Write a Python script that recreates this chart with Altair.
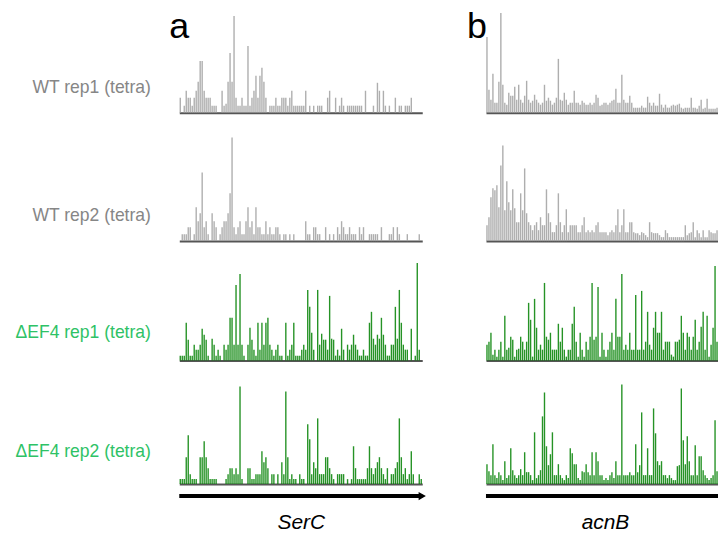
import altair as alt
import pandas as pd
import numpy as np

FONT = "Liberation Sans"
GENES = ["SerC", "acnB"]
ROW_LABELS = ["WT rep1 (tetra)", "WT rep2 (tetra)", "\u0394EF4 rep1 (tetra)", "\u0394EF4 rep2 (tetra)"]
LETTERS = ["a", "b"]
SERC_BINS = 122
ACNB_BINS = 120

# footprint reads per bin
serc_wt_rep1 = [
    15, 0, 7, 22, 15, 15, 7, 15, 22, 31,
    52, 52, 22, 15, 15, 15, 7, 7, 7, 0,
    0, 22, 7, 9, 31, 60, 31, 97, 15, 7,
    7, 15, 7, 7, 67, 7, 15, 22, 37, 15,
    37, 45, 31, 15, 0, 7, 7, 7, 15, 7,
    7, 15, 15, 15, 7, 15, 22, 7, 7, 7,
    7, 7, 7, 22, 0, 7, 0, 7, 0, 7,
    7, 7, 0, 0, 15, 22, 0, 0, 15, 0,
    7, 15, 7, 0, 7, 7, 7, 7, 7, 7,
    7, 7, 0, 22, 0, 0, 0, 7, 0, 30,
    22, 0, 22, 7, 0, 7, 0, 0, 15, 0,
    7, 7, 0, 7, 7, 7, 15, 0, 0, 0,
    0, 0]
serc_wt_rep2 = [
    0, 7, 7, 7, 14, 14, 0, 7, 34, 20,
    28, 69, 14, 20, 7, 0, 28, 20, 14, 0,
    7, 14, 20, 20, 28, 48, 104, 14, 7, 14,
    20, 7, 7, 20, 34, 14, 20, 7, 34, 14,
    14, 7, 7, 20, 7, 14, 7, 7, 14, 14,
    7, 0, 7, 7, 0, 7, 0, 7, 0, 0,
    0, 0, 0, 20, 7, 7, 0, 14, 14, 7,
    7, 0, 0, 14, 0, 7, 0, 7, 0, 14,
    7, 20, 14, 7, 7, 14, 7, 7, 7, 0,
    14, 7, 14, 0, 0, 7, 7, 7, 7, 7,
    0, 14, 0, 0, 0, 7, 7, 14, 0, 14,
    7, 0, 0, 0, 7, 0, 0, 0, 0, 0,
    7, 0]
serc_ef4_rep1 = [
    5, 5, 5, 38, 21, 5, 5, 16, 11, 11,
    16, 32, 26, 21, 5, 0, 22, 16, 5, 11,
    5, 0, 16, 11, 16, 43, 43, 16, 76, 16,
    87, 16, 5, 0, 16, 33, 21, 11, 5, 38,
    11, 38, 16, 38, 43, 16, 11, 5, 11, 16,
    5, 5, 0, 38, 5, 11, 16, 38, 5, 5,
    5, 11, 16, 11, 71, 54, 28, 11, 0, 71,
    16, 27, 21, 21, 11, 65, 22, 21, 5, 11,
    5, 32, 11, 0, 16, 11, 16, 26, 16, 11,
    5, 5, 11, 5, 5, 38, 49, 22, 16, 26,
    22, 43, 26, 16, 5, 5, 16, 16, 54, 22,
    71, 38, 16, 11, 11, 0, 32, 0, 5, 98,
    11, 0]
serc_ef4_rep2 = [
    5, 5, 5, 27, 49, 10, 5, 5, 5, 0,
    27, 27, 43, 27, 16, 5, 5, 5, 5, 0,
    0, 0, 0, 5, 10, 16, 16, 10, 16, 10,
    98, 5, 0, 0, 16, 16, 5, 5, 10, 10,
    10, 33, 22, 27, 16, 0, 10, 10, 0, 10,
    0, 22, 10, 93, 27, 5, 10, 5, 5, 0,
    10, 5, 5, 0, 60, 45, 10, 22, 16, 66,
    10, 10, 10, 27, 27, 16, 10, 5, 0, 10,
    10, 10, 10, 0, 5, 0, 5, 38, 16, 5,
    5, 5, 5, 5, 16, 38, 16, 10, 16, 22,
    27, 16, 10, 5, 16, 0, 10, 10, 16, 22,
    66, 27, 10, 16, 5, 10, 33, 10, 0, 0,
    10, 5]
acnb_wt_rep1 = [
    76, 23, 13, 39, 10, 10, 31, 100, 28, 10,
    8, 20, 17, 17, 26, 13, 28, 13, 10, 17,
    32, 13, 10, 12, 18, 13, 10, 8, 10, 28,
    12, 15, 12, 8, 10, 15, 54, 13, 12, 20,
    13, 8, 10, 10, 22, 10, 10, 8, 12, 10,
    8, 8, 10, 8, 10, 18, 15, 7, 8, 10,
    10, 8, 10, 12, 13, 24, 10, 10, 38, 13,
    10, 10, 17, 10, 5, 5, 5, 5, 7, 5,
    5, 16, 10, 7, 10, 7, 7, 19, 8, 5,
    8, 5, 5, 7, 8, 7, 8, 9, 5, 4,
    5, 5, 5, 15, 5, 5, 4, 7, 13, 4,
    5, 14, 4, 4, 4, 4, 5, 4, 4, 7]
acnb_wt_rep2 = [
    16, 24, 44, 53, 51, 56, 34, 76, 96, 31,
    60, 39, 31, 52, 33, 19, 19, 48, 31, 73,
    28, 19, 16, 11, 16, 19, 11, 24, 16, 16,
    52, 28, 19, 9, 9, 16, 48, 19, 9, 16,
    32, 9, 16, 16, 16, 16, 9, 9, 16, 24,
    9, 11, 9, 11, 9, 16, 19, 9, 9, 9,
    9, 6, 9, 11, 9, 16, 32, 9, 16, 32,
    9, 9, 19, 19, 9, 8, 8, 6, 9, 8,
    6, 4, 19, 9, 8, 8, 8, 6, 4, 4,
    11, 8, 4, 4, 4, 4, 4, 4, 4, 4,
    16, 6, 8, 9, 19, 4, 11, 8, 4, 11,
    4, 4, 11, 9, 8, 8, 11, 4, 11, 4]
acnb_ef4_rep1 = [
    16, 19, 28, 6, 11, 4, 11, 19, 4, 45,
    11, 13, 24, 21, 4, 11, 12, 24, 19, 11,
    19, 58, 41, 4, 62, 33, 11, 16, 11, 78,
    24, 21, 28, 11, 11, 11, 37, 19, 33, 11,
    4, 11, 11, 37, 54, 19, 4, 28, 11, 4,
    19, 11, 24, 78, 21, 24, 74, 4, 28, 11,
    4, 11, 19, 28, 11, 62, 24, 24, 87, 11,
    16, 11, 28, 11, 11, 66, 11, 11, 70, 11,
    19, 49, 16, 11, 33, 49, 28, 28, 49, 11,
    19, 19, 19, 6, 4, 19, 19, 21, 45, 28,
    11, 28, 24, 11, 24, 41, 11, 19, 34, 49,
    11, 45, 4, 16, 33, 95, 19, 11, 28, 21]
acnb_ef4_rep2 = [
    20, 13, 9, 40, 9, 6, 12, 9, 4, 23,
    6, 9, 36, 14, 9, 6, 9, 15, 9, 32,
    12, 12, 9, 4, 52, 6, 9, 14, 68, 92,
    38, 19, 30, 52, 9, 9, 20, 9, 6, 4,
    9, 6, 36, 31, 20, 20, 6, 4, 13, 12,
    20, 12, 9, 32, 9, 32, 23, 9, 9, 4,
    6, 4, 9, 12, 6, 23, 9, 9, 100, 9,
    9, 9, 12, 9, 9, 40, 12, 19, 72, 9,
    9, 36, 9, 9, 76, 51, 23, 19, 23, 9,
    9, 6, 9, 6, 4, 4, 18, 19, 96, 44,
    20, 48, 23, 9, 9, 39, 9, 28, 28, 14,
    9, 6, 4, 6, 9, 64, 13, 9, 6, 9]

SERC_TRACKS = [serc_wt_rep1, serc_wt_rep2, serc_ef4_rep1, serc_ef4_rep2]
ACNB_TRACKS = [acnb_wt_rep1, acnb_wt_rep2, acnb_ef4_rep1, acnb_ef4_rep2]

ROW_H = [100, 107, 98, 102]
LABEL_Y = [75, 81, 70, 69]
BAR_COLORS = ["#a0a0a0", "#a0a0a0", "#008000", "#008000"]
LABEL_COLORS = ["#868686", "#868686", "#2ec266", "#2ec266"]
WIDTHS = [244, 239]
LETTER_DX = [-10, -19]


def panel(key, vals, nbins, h, color, width, label=None, label_color=None, label_y=0,
          gene=None, arrow_head=False, letter=None, letter_dx=0):
    pos_f = "pos_" + key
    val_f = "reads_" + key
    df = pd.DataFrame({pos_f: np.arange(len(vals)) + 0.5, val_f: vals})
    df = df[df[val_f] > 0]
    xscale = alt.Scale(domain=[0, nbins], nice=False, zero=False)
    ax_kw = dict(domain=True, domainColor="#555555", domainWidth=2, ticks=False,
                 labels=False, grid=False)
    if gene:
        ax_kw.update(title=gene, titleFont=FONT, titleFontSize=21, titleFontStyle="italic",
                     titleFontWeight="normal", titleColor="black", titlePadding=45,
                     titleBaseline="alphabetic")
    else:
        ax_kw.update(title="")
    xax = alt.Axis(**ax_kw)
    if label:
        yax = alt.Axis(title=label, titleAngle=0, titleAlign="right", titleBaseline="middle",
                       titleX=-29, titleY=label_y, titleFont=FONT, titleFontSize=17.6,
                       titleFontWeight="normal", titleColor=label_color,
                       domain=False, ticks=False, labels=False, grid=False)
    else:
        yax = None
    bars = alt.Chart(df).mark_rule(strokeWidth=1.4, color=color, opacity=0.85, strokeCap="butt").encode(
        x=alt.X(pos_f + ":Q", scale=xscale, axis=xax),
        y=alt.Y(val_f + ":Q", scale=alt.Scale(domain=[0, h], nice=False), axis=yax),
        y2=alt.datum(0),
    )
    layers = [bars]
    if gene:
        gdf = pd.DataFrame({"start": [0], "end": [nbins]})
        shaft = alt.Chart(gdf).mark_rule(strokeWidth=4, color="black", strokeCap="butt").encode(
            x=alt.X("start:Q", scale=xscale, axis=xax),
            x2="end:Q",
            y=alt.value(h + 12),
        )
        layers.append(shaft)
        if arrow_head:
            head = alt.Chart(gdf).mark_point(shape="triangle-right", filled=True, size=70,
                                             color="black", opacity=1).encode(
                x=alt.X("end:Q", scale=xscale, axis=xax),
                y=alt.value(h + 12),
            )
            layers.append(head)
    if letter:
        ldf = pd.DataFrame({"letter": [letter]})
        txt = alt.Chart(ldf).mark_text(font=FONT, fontSize=36, color="black", align="left",
                                       baseline="alphabetic").encode(
            text="letter:N", x=alt.value(letter_dx), y=alt.value(25))
        layers.append(txt)
    return alt.layer(*layers).properties(width=width, height=h)


panels = []
for i in range(4):
    last = i == 3
    panels.append(panel("a%d" % i, SERC_TRACKS[i], SERC_BINS, ROW_H[i], BAR_COLORS[i], WIDTHS[0],
                        label=ROW_LABELS[i], label_color=LABEL_COLORS[i], label_y=LABEL_Y[i],
                        gene=GENES[0] if last else None, arrow_head=True,
                        letter=LETTERS[0] if i == 0 else None, letter_dx=LETTER_DX[0]))
    panels.append(panel("b%d" % i, ACNB_TRACKS[i], ACNB_BINS, ROW_H[i], BAR_COLORS[i], WIDTHS[1],
                        gene=GENES[1] if last else None, arrow_head=False,
                        letter=LETTERS[1] if i == 0 else None, letter_dx=LETTER_DX[1]))

chart = alt.concat(*panels, columns=2, spacing=alt.RowColnumber(row=22, column=64),
                   bounds="flush").resolve_scale(x="independent", y="independent").properties(
    padding={"left": 7, "top": 0, "right": -8, "bottom": -4}, background="white"
).configure_view(strokeWidth=0).configure_axis(grid=False)

chart.save("out.html", embed_options={"renderer": "svg", "actions": False})
